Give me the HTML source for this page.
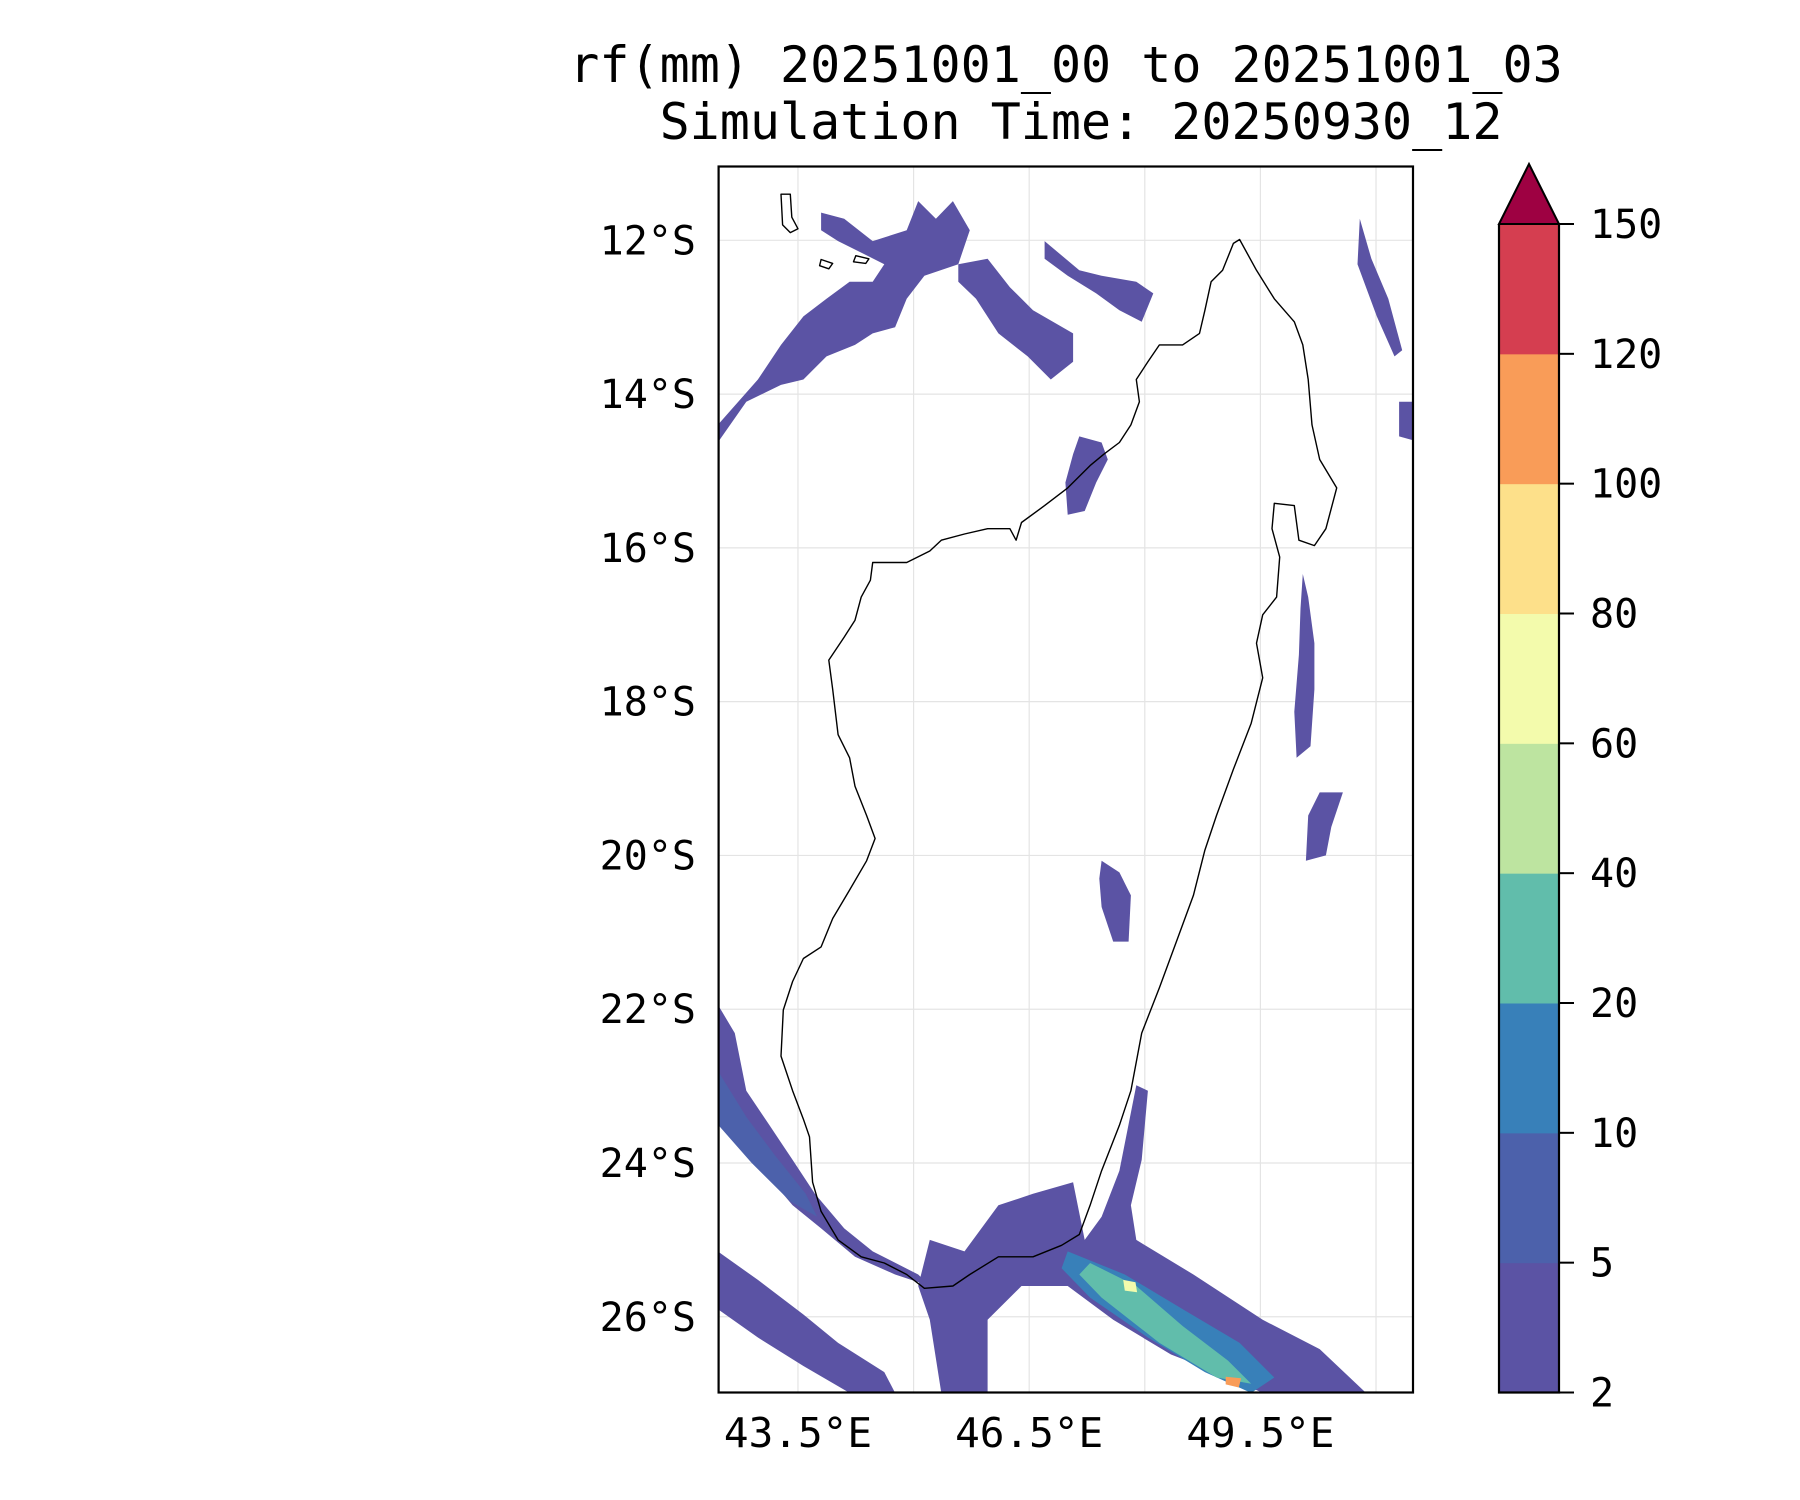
<!DOCTYPE html>
<html><head><meta charset="utf-8"><style>
html,body{margin:0;padding:0;background:#fff;}
svg{display:block;font-family:"DejaVu Sans Mono","Liberation Mono",monospace;}
</style></head><body>
<svg id="chart" width="1800" height="1500" viewBox="0 0 1800 1500" xmlns="http://www.w3.org/2000/svg">
<defs><clipPath id="mapclip"><rect x="718.6" y="166.5" width="694.4" height="1226"/></clipPath></defs>
<text x="1066" y="82" font-size="50" text-anchor="middle">rf(mm) 20251001_00 to 20251001_03</text>
<text x="1081" y="139" font-size="50" text-anchor="middle">Simulation Time: 20250930_12</text>
<g id="grid"></g>
<g id="rain" clip-path="url(#mapclip)"></g>
<g id="coast" clip-path="url(#mapclip)"></g>
<rect x="718.6" y="166.5" width="694.4" height="1226" fill="none" stroke="#000" stroke-width="2.2"/>
<g id="ylabels"></g>
<g id="xlabels"></g>
<g id="cbar"></g>
</svg>
<script>
const lonTicks = [43.5, 46.5, 49.5];
const lonGrid = [43.5, 45, 46.5, 48, 49.5, 51];
const latTicks = [12, 14, 16, 18, 20, 22, 24, 26];
const cbLevels = [2, 5, 10, 20, 40, 60, 80, 100, 120, 150];
const cbColors = ['#5b53a4','#4c61ab','#3880b9','#61bdab','#bde4a0','#f3fbac','#fde08a','#f99c58','#d53e50'];
const cbExtendColor = '#9e0142';
const coastline = [[49.23,11.99],[49.45,12.39],[49.68,12.76],[49.94,13.06],[50.05,13.36],[50.12,13.81],[50.17,14.40],[50.27,14.85],[50.49,15.22],[50.35,15.75],[50.20,15.97],[50.00,15.90],[49.94,15.45],[49.68,15.42],[49.65,15.75],[49.75,16.12],[49.71,16.64],[49.53,16.87],[49.45,17.24],[49.53,17.69],[49.38,18.28],[49.15,18.88],[48.93,19.48],[48.78,19.93],[48.63,20.52],[48.41,21.12],[48.19,21.72],[47.96,22.31],[47.82,23.06],[47.67,23.51],[47.44,24.10],[47.29,24.55],[47.15,24.93],[46.92,25.07],[46.55,25.22],[46.10,25.22],[45.73,25.45],[45.51,25.60],[45.14,25.63],[44.91,25.45],[44.62,25.30],[44.32,25.22],[44.02,25.00],[43.80,24.63],[43.69,24.25],[43.65,23.66],[43.57,23.43],[43.43,23.06],[43.28,22.61],[43.31,22.01],[43.43,21.64],[43.57,21.34],[43.80,21.19],[43.95,20.82],[44.17,20.45],[44.39,20.07],[44.50,19.78],[44.39,19.48],[44.24,19.10],[44.17,18.73],[44.02,18.43],[43.95,17.84],[43.90,17.46],[44.10,17.16],[44.24,16.94],[44.32,16.64],[44.44,16.42],[44.47,16.19],[44.91,16.19],[45.21,16.04],[45.36,15.90],[45.66,15.82],[45.96,15.75],[46.25,15.75],[46.33,15.90],[46.40,15.67],[46.70,15.45],[47.00,15.22],[47.29,14.93],[47.47,14.78],[47.67,14.63],[47.82,14.40],[47.93,14.10],[47.89,13.81],[48.04,13.58],[48.19,13.36],[48.49,13.36],[48.71,13.21],[48.78,12.91],[48.86,12.54],[49.01,12.39],[49.15,12.04]];
const comoros = [[43.28,11.40],[43.40,11.40],[43.42,11.70],[43.50,11.85],[43.40,11.90],[43.30,11.80]];
const moheli = [[44.25,12.20],[44.42,12.24],[44.38,12.30],[44.22,12.28]];
const anjouan = [[43.80,12.25],[43.95,12.30],[43.90,12.37],[43.78,12.33]];
const rainLevel = [0,0,0,0,0,0,0,0,0,0,0,0,1,2,3,5,7];
const rainBlobs = [
 [[43.80,11.64],[44.10,11.72],[44.47,12.01],[44.91,11.87],[45.06,11.49],[45.29,11.72],[45.51,11.49],[45.73,11.87],[45.58,12.31],[45.14,12.46],[44.91,12.76],[44.76,13.13],[44.47,13.21],[44.24,13.36],[43.87,13.51],[43.57,13.81],[43.28,13.88],[42.83,14.10],[42.46,14.63],[42.46,14.40],[42.98,13.81],[43.28,13.36],[43.57,12.99],[43.87,12.76],[44.17,12.54],[44.47,12.54],[44.62,12.31],[44.32,12.16],[44.02,12.01],[43.80,11.87]],
 [[45.58,12.31],[45.96,12.24],[46.25,12.61],[46.55,12.91],[47.07,13.21],[47.07,13.58],[46.78,13.81],[46.48,13.51],[46.10,13.21],[45.81,12.76],[45.58,12.54]],
 [[46.70,12.01],[47.15,12.39],[47.44,12.46],[47.89,12.54],[48.11,12.69],[47.96,13.06],[47.67,12.91],[47.37,12.69],[47.00,12.46],[46.70,12.24]],
 [[50.79,11.72],[50.94,12.24],[51.16,12.76],[51.34,13.43],[51.24,13.51],[51.01,12.99],[50.87,12.61],[50.76,12.31]],
 [[51.30,14.10],[51.48,14.10],[51.48,14.60],[51.30,14.55]],
 [[47.15,14.55],[47.44,14.63],[47.52,14.85],[47.37,15.15],[47.22,15.52],[47.00,15.57],[46.97,15.15],[47.07,14.78]],
 [[50.05,16.34],[50.12,16.64],[50.20,17.24],[50.20,17.84],[50.15,18.58],[49.97,18.73],[49.94,18.13],[50.00,17.39],[50.02,16.79]],
 [[50.27,19.18],[50.57,19.18],[50.42,19.63],[50.35,20.00],[50.09,20.07],[50.12,19.48]],
 [[47.44,20.07],[47.67,20.22],[47.82,20.52],[47.79,21.12],[47.59,21.12],[47.44,20.67],[47.41,20.30]],
 [[42.46,21.94],[42.68,22.31],[42.83,23.06],[43.13,23.51],[43.43,23.96],[43.72,24.40],[44.10,24.85],[44.47,25.15],[45.06,25.45],[45.21,25.60],[44.76,25.45],[44.24,25.22],[43.80,24.85],[43.43,24.55],[43.05,24.10],[42.75,23.66],[42.46,23.21]],
 [[42.46,25.15],[42.98,25.52],[43.57,25.97],[44.02,26.34],[44.62,26.72],[44.76,26.99],[44.17,26.99],[43.57,26.64],[42.98,26.27],[42.46,25.90]],
 [[45.21,25.00],[45.66,25.15],[46.10,24.55],[46.55,24.40],[47.07,24.25],[47.22,25.00],[47.44,24.70],[47.67,24.10],[47.89,22.99],[48.04,23.06],[47.96,23.96],[47.82,24.55],[47.89,25.00],[48.63,25.45],[49.53,26.04],[50.27,26.42],[50.87,26.99],[49.53,26.99],[48.93,26.72],[48.34,26.49],[47.59,26.04],[47.00,25.60],[46.40,25.60],[45.96,26.04],[45.96,26.99],[45.36,26.99],[45.21,26.04],[45.06,25.60]],
 [[42.46,22.80],[42.83,23.40],[43.20,23.90],[43.60,24.40],[43.75,24.70],[43.40,24.50],[42.90,24.00],[42.46,23.50]],
 [[47.00,25.15],[47.74,25.45],[48.49,25.90],[49.23,26.34],[49.68,26.79],[49.38,26.99],[48.78,26.72],[48.04,26.27],[47.29,25.75],[46.92,25.37]],
 [[47.29,25.30],[47.89,25.60],[48.49,26.12],[49.08,26.57],[49.38,26.87],[48.93,26.79],[48.19,26.34],[47.44,25.75],[47.15,25.45]],
 [[47.72,25.52],[47.88,25.55],[47.90,25.68],[47.74,25.66]],
 [[49.05,26.78],[49.25,26.80],[49.22,26.92],[49.05,26.88]]
];
const X = lon => 718.6 + (lon - 42.47) * 77.07;
const Y = lat => 166.5 + (lat - 11.04) * 76.89;
const NS = 'http://www.w3.org/2000/svg';
function mk(tag, attrs, parent){const e=document.createElementNS(NS,tag);for(const k in attrs)e.setAttribute(k,attrs[k]);parent.appendChild(e);return e;}
const ptsStr = arr => arr.map(p => X(p[0]).toFixed(1)+','+Y(p[1]).toFixed(1)).join(' ');

const grid = document.getElementById('grid');
lonGrid.forEach(v => {
  const l = mk('line',{x1:X(v),x2:X(v),y1:166.5,y2:1392.5,stroke:'#e4e4e4','stroke-width':1.2},grid);
  
  
});
latTicks.forEach(v => {
  const l = mk('line',{x1:718.6,x2:1413,y1:Y(v),y2:Y(v),stroke:'#e4e4e4','stroke-width':1.2},grid);
  
  
});

const rain = document.getElementById('rain');
rainBlobs.forEach((b,i) => {
  const p = mk('polygon',{points:ptsStr(b),fill:cbColors[rainLevel[i]]},rain);
  
  
});

const coast = document.getElementById('coast');
[coastline, comoros, moheli, anjouan].forEach(c => {
  const p = mk('polygon',{points:ptsStr(c),fill:'none',stroke:'#000','stroke-width':1.4,'stroke-linejoin':'round'},coast);
  
  
});

const yl = document.getElementById('ylabels');
latTicks.forEach(v => {
  const t = mk('text',{x:696,y:Y(v)+14,'font-size':40,'text-anchor':'end'},yl);
  t.textContent = v + '°S';
  
  
});
const xl = document.getElementById('xlabels');
lonTicks.forEach(v => {
  const t = mk('text',{x:X(v),y:1447,'font-size':41,'text-anchor':'middle'},xl);
  t.textContent = v.toFixed(1) + '°E';
  
  
});

const cb = document.getElementById('cbar');
const cbX = 1499, cbW = 60, cbTop = 224, cbBot = 1392.5;
const step = (cbBot - cbTop) / (cbLevels.length - 1);
cbColors.forEach((c,i) => {
  const r = mk('rect',{x:cbX,y:cbBot-(i+1)*step,width:cbW,height:step+0.5,fill:c},cb);
  
  
});
const tri = mk('polygon',{points:`${cbX},${cbTop} ${cbX+cbW/2},164 ${cbX+cbW},${cbTop}`,fill:cbExtendColor,stroke:'#000','stroke-width':2},cb);


const fr = mk('polyline',{points:`${cbX+cbW},${cbTop} ${cbX+cbW},${cbBot} ${cbX},${cbBot} ${cbX},${cbTop}`,fill:'none',stroke:'#000','stroke-width':2.2},cb);


cbLevels.forEach((v,i) => {
  const y = cbBot - i*step;
  const tk = mk('line',{x1:cbX+cbW,x2:cbX+cbW+15,y1:y,y2:y,stroke:'#000','stroke-width':2},cb);
  
  
  const t = mk('text',{x:1590,y:y+14,'font-size':40},cb);
  t.textContent = v;
  
  
});
</script>
</body></html>
